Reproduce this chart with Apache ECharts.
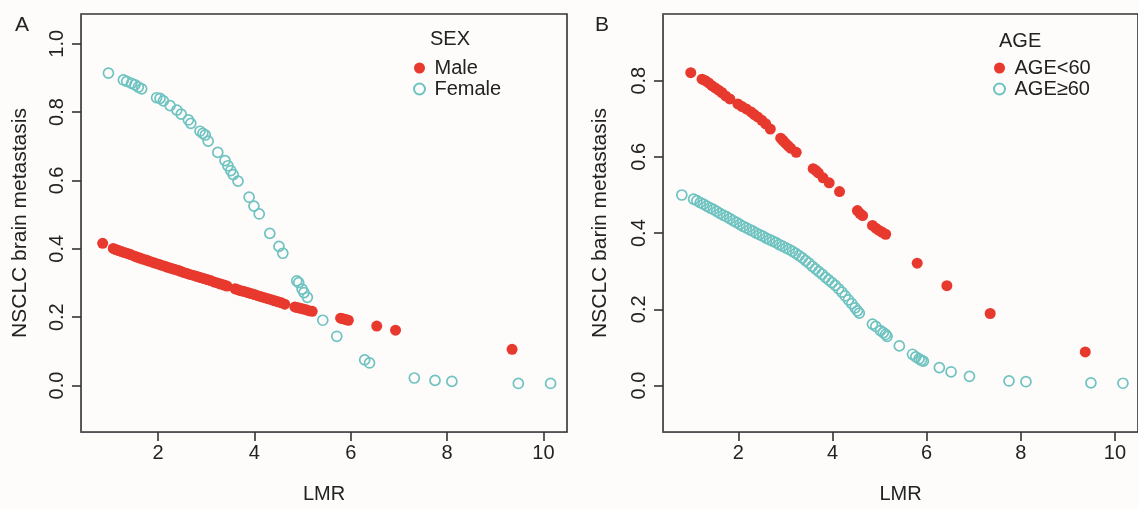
<!DOCTYPE html>
<html>
<head>
<meta charset="utf-8">
<script src="https://cdn.jsdelivr.net/npm/echarts@6/dist/echarts.min.js"></script>
<style>
  html, body { margin: 0; padding: 0; background: #fdfcfb; }
  #chart { width: 1138px; height: 509px; }
</style>
</head>
<body>
<div id="chart"></div>
<script>
// panel A - SEX
var maleLmr = [0.85, 1.07, 1.12, 1.18, 1.24, 1.30, 1.37, 1.43, 1.50, 1.56, 1.62, 1.68, 1.75, 1.81, 1.88, 1.94,
  2.01, 2.07, 2.14, 2.20, 2.27, 2.34, 2.41, 2.47, 2.53, 2.60, 2.66, 2.74, 2.81, 2.88, 2.95, 3.02, 3.09, 3.16,
  3.23, 3.30, 3.37, 3.43, 3.60, 3.66, 3.72, 3.79, 3.86, 3.93, 4.00, 4.07, 4.14, 4.21, 4.28, 4.35, 4.42, 4.49,
  4.56, 4.63, 4.84, 4.89, 4.95, 5.01, 5.07, 5.13, 5.20, 5.79, 5.84, 5.90, 5.95, 6.54, 6.93, 9.35];
var maleProb = [0.416, 0.401, 0.398, 0.395, 0.392, 0.389, 0.386, 0.383, 0.379, 0.376, 0.373, 0.370, 0.367, 0.364,
  0.361, 0.358, 0.355, 0.352, 0.349, 0.346, 0.343, 0.340, 0.337, 0.334, 0.331, 0.328, 0.325, 0.322, 0.319, 0.316,
  0.313, 0.310, 0.307, 0.303, 0.300, 0.297, 0.294, 0.291, 0.283, 0.280, 0.277, 0.275, 0.272, 0.269, 0.266, 0.263,
  0.260, 0.257, 0.254, 0.251, 0.248, 0.245, 0.242, 0.238, 0.230, 0.228, 0.226, 0.224, 0.222, 0.219, 0.217, 0.197,
  0.195, 0.193, 0.191, 0.174, 0.162, 0.106];

var femaleLmr = [0.97, 1.28, 1.35, 1.45, 1.52, 1.59, 1.66, 1.97, 2.04, 2.11, 2.25, 2.39, 2.48, 2.63, 2.68, 2.87,
  2.93, 2.98, 3.04, 3.24, 3.39, 3.45, 3.51, 3.56, 3.66, 3.89, 3.99, 4.10, 4.32, 4.51, 4.59, 4.88, 4.92, 4.99,
  5.03, 5.10, 5.42, 5.71, 6.29, 6.39, 7.32, 7.75, 8.10, 9.48, 10.15];
var femaleProb = [0.914, 0.894, 0.890, 0.884, 0.880, 0.873, 0.868, 0.842, 0.840, 0.833, 0.819, 0.806, 0.794, 0.777,
  0.767, 0.744, 0.738, 0.733, 0.715, 0.682, 0.658, 0.643, 0.629, 0.617, 0.598, 0.551, 0.525, 0.502, 0.445, 0.407,
  0.387, 0.306, 0.301, 0.282, 0.272, 0.258, 0.191, 0.144, 0.075, 0.066, 0.022, 0.015, 0.012, 0.006, 0.006];

// panel B - AGE
var youngLmr = [0.99, 1.23, 1.30, 1.37, 1.44, 1.51, 1.58, 1.65, 1.73, 1.82, 1.99, 2.08, 2.17, 2.27, 2.34, 2.41,
  2.50, 2.58, 2.68, 2.90, 2.95, 3.00, 3.06, 3.11, 3.23, 3.59, 3.65, 3.70, 3.80, 3.93, 4.15, 4.53, 4.58, 4.64,
  4.85, 4.92, 4.99, 5.06, 5.13, 5.80, 6.43, 7.35, 9.37];
var youngProb = [0.821, 0.804, 0.800, 0.794, 0.787, 0.781, 0.775, 0.769, 0.760, 0.752, 0.739, 0.732, 0.726, 0.718,
  0.711, 0.705, 0.696, 0.687, 0.673, 0.649, 0.643, 0.636, 0.629, 0.623, 0.612, 0.569, 0.564, 0.558, 0.545, 0.532,
  0.509, 0.459, 0.452, 0.446, 0.420, 0.413, 0.407, 0.402, 0.397, 0.321, 0.262, 0.189, 0.088];

var oldLmr = [0.80, 1.05, 1.12, 1.19, 1.26, 1.33, 1.40, 1.47, 1.54, 1.61, 1.68, 1.75, 1.82, 1.89, 1.96, 2.03,
  2.10, 2.17, 2.24, 2.31, 2.38, 2.45, 2.52, 2.59, 2.66, 2.73, 2.80, 2.87, 2.94, 3.01, 3.08, 3.15, 3.22, 3.29,
  3.36, 3.43, 3.50, 3.57, 3.64, 3.71, 3.78, 3.85, 3.92, 3.99, 4.06, 4.13, 4.20, 4.27, 4.34, 4.41, 4.48, 4.53,
  4.57, 4.85, 4.92, 5.02, 5.08, 5.13, 5.16, 5.42, 5.70, 5.77, 5.84, 5.89, 5.93, 6.27, 6.52, 6.91, 7.75, 8.11,
  9.49, 10.17];
var oldProb = [0.500, 0.489, 0.485, 0.480, 0.476, 0.471, 0.466, 0.462, 0.457, 0.452, 0.447, 0.443, 0.438, 0.433,
  0.428, 0.423, 0.418, 0.414, 0.409, 0.405, 0.400, 0.396, 0.392, 0.387, 0.383, 0.379, 0.375, 0.370, 0.366, 0.361,
  0.357, 0.352, 0.347, 0.341, 0.335, 0.328, 0.321, 0.313, 0.306, 0.299, 0.292, 0.284, 0.277, 0.270, 0.263, 0.254,
  0.245, 0.235, 0.225, 0.215, 0.204, 0.196, 0.190, 0.161, 0.155, 0.144, 0.139, 0.134, 0.129, 0.104, 0.082, 0.075,
  0.070, 0.066, 0.064, 0.047, 0.036, 0.024, 0.012, 0.010, 0.007, 0.006];

var xTicks = [2, 4, 6, 8, 10];
var yTicksA = [0, 0.2, 0.4, 0.6, 0.8, 1.0];
var yTicksB = [0, 0.2, 0.4, 0.6, 0.8];

var RED = '#e8392e';
var TEAL = '#6ec3c0';
var INK = '#222';
var LINE = '#333';
var FONT = 'Liberation Sans';

function pairs(xs, ys) {
  return xs.map(function (x, i) { return [x, ys[i]]; });
}

function xAxisOf(gridIndex) {
  return {
    type: 'value', gridIndex: gridIndex, min: 0.4, max: 10.49,
    name: 'LMR', nameLocation: 'middle', nameGap: 52,
    nameTextStyle: { fontSize: 20, color: INK, fontFamily: FONT },
    axisLine: { show: true, onZero: false },
    axisTick: { show: true, length: 9, customValues: xTicks, lineStyle: { color: LINE, width: 1.6 } },
    axisLabel: { customValues: xTicks, fontSize: 20, color: INK, fontFamily: FONT, margin: 11 },
    splitLine: { show: false }
  };
}

function yAxisOf(gridIndex, min, max, ticks, title, gap) {
  return {
    type: 'value', gridIndex: gridIndex, min: min, max: max,
    name: title, nameLocation: 'middle', nameGap: gap,
    nameTextStyle: { fontSize: 21, color: INK, fontFamily: FONT },
    axisLine: { show: true, onZero: false },
    axisTick: { show: true, length: 9, customValues: ticks, lineStyle: { color: LINE, width: 1.6 } },
    axisLabel: {
      customValues: ticks, rotate: 90, fontSize: 20, color: INK, fontFamily: FONT, margin: 14,
      formatter: function (v) { return v.toFixed(1); }
    },
    splitLine: { show: false }
  };
}

function gridBox(left, width) {
  return { left: left, top: 14, width: width, height: 424, show: true,
    borderColor: LINE, borderWidth: 1.6, backgroundColor: 'transparent' };
}

var chart = echarts.init(document.getElementById('chart'));

var option = {
  backgroundColor: '#fdfcfb',
  animation: false,
  title: [
    { text: 'A', left: 10, top: 10, textStyle: { fontSize: 21, fontWeight: 'normal', color: INK, fontFamily: FONT } },
    { text: 'B', left: 590, top: 10, textStyle: { fontSize: 21, fontWeight: 'normal', color: INK, fontFamily: FONT } },
    { text: 'SEX', left: 425, top: 24, textStyle: { fontSize: 20, fontWeight: 'normal', color: INK, fontFamily: FONT } },
    { text: 'AGE', left: 994, top: 26, textStyle: { fontSize: 20, fontWeight: 'normal', color: INK, fontFamily: FONT } }
  ],
  legend: [
    {
      orient: 'vertical', left: 408, top: 53, itemWidth: 20, itemHeight: 11, itemGap: 1,
      textStyle: { fontSize: 20, color: INK, fontFamily: FONT },
      data: ['Male', 'Female']
    },
    {
      orient: 'vertical', left: 988, top: 53, itemWidth: 20, itemHeight: 11, itemGap: 1,
      textStyle: { fontSize: 20, color: INK, fontFamily: FONT },
      data: ['AGE<60', 'AGE≥60']
    }
  ],
  grid: [gridBox(81, 486), gridBox(663, 484)],
  xAxis: [xAxisOf(0), xAxisOf(1)],
  yAxis: [
    yAxisOf(0, -0.136, 1.087, yTicksA, 'NSCLC brain metastasis', 50),
    yAxisOf(1, -0.122, 0.975, yTicksB, 'NSCLC barin metastasis', 52)
  ],
  series: [
    {
      name: 'Male', type: 'scatter', xAxisIndex: 0, yAxisIndex: 0, symbol: 'circle', symbolSize: 11,
      itemStyle: { color: RED, opacity: 1 }, data: pairs(maleLmr, maleProb)
    },
    {
      name: 'Female', type: 'scatter', xAxisIndex: 0, yAxisIndex: 0, symbol: 'circle', symbolSize: 10,
      itemStyle: { color: 'rgba(255,255,255,0)', borderColor: TEAL, borderWidth: 1.7, opacity: 1 },
      data: pairs(femaleLmr, femaleProb)
    },
    {
      name: 'AGE<60', type: 'scatter', xAxisIndex: 1, yAxisIndex: 1, symbol: 'circle', symbolSize: 11,
      itemStyle: { color: RED, opacity: 1 }, data: pairs(youngLmr, youngProb)
    },
    {
      name: 'AGE≥60', type: 'scatter', xAxisIndex: 1, yAxisIndex: 1, symbol: 'circle', symbolSize: 10,
      itemStyle: { color: 'rgba(255,255,255,0)', borderColor: TEAL, borderWidth: 1.7, opacity: 1 },
      data: pairs(oldLmr, oldProb)
    }
  ]
};

chart.setOption(option);
</script>
</body>
</html>
